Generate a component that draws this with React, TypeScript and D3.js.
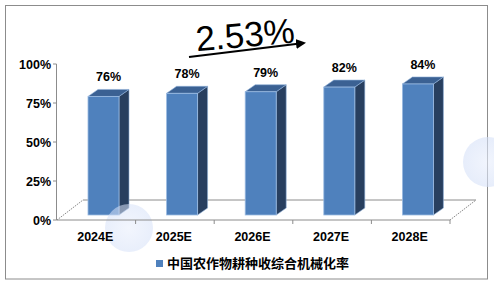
import React from "react";
import * as d3 from "d3";

const categories = ["2024E", "2025E", "2026E", "2027E", "2028E"];
const values = [76, 78, 79, 82, 84];
const valueLabels = ["76%", "78%", "79%", "82%", "84%"];
const yTicks = [0, 25, 50, 75, 100];
const seriesName = "中国农作物耕种收综合机械化率";
const growthLabel = "2.53%";

const W = 494;
const H = 285;
const x0 = 57;
const x1 = 450;
const floorY = 220;
const floorDx = 26;
const floorDy = -20;
const barBottom = 215;
const barW = 31;
const barOff = 31;
const bdx = 10;
const bdy = -7;

export default function App() {
  const x = d3.scaleBand<string>().domain(categories).range([x0, x1]).padding(0);
  const yAxis = d3.scaleLinear().domain([0, 100]).range([floorY, 64]);
  const yBar = d3.scaleLinear().domain([0, 100]).range([barBottom, barBottom - 156]);
  const font = "Arial, 'Liberation Sans', sans-serif";
  const boundaries = categories.map((c) => (x(c) as number) + x.bandwidth());

  return (
    <svg
      width={W}
      height={H}
      style={{ position: "absolute", left: 0, top: 0, background: "#fff" }}
      xmlns="http://www.w3.org/2000/svg"
    >
      <defs>
        <radialGradient id="wm" cx="50%" cy="50%" r="50%">
          <stop offset="0%" stopColor="#e8eefc" />
          <stop offset="100%" stopColor="#d6e1f8" />
        </radialGradient>
        <marker id="arr" viewBox="0 0 10 10" refX="8" refY="5" markerWidth="5" markerHeight="5" orient="auto">
          <path d="M0,0 L10,5 L0,10 z" fill="#000" />
        </marker>
      </defs>
      <rect x={5.5} y={5.5} width={482} height={273.5} fill="#fff" stroke="#8c8c8c" strokeWidth={1} />

      {/* floor */}
      <line x1={x0 + floorDx} y1={floorY + floorDy} x2={x1 + floorDx} y2={floorY + floorDy} stroke="#8c8c8c" />
      <line x1={x0} y1={floorY} x2={x0 + floorDx} y2={floorY + floorDy} stroke="#8c8c8c" strokeDasharray="1.5,1" />
      <line x1={x1} y1={floorY} x2={x1 + floorDx} y2={floorY + floorDy} stroke="#8c8c8c" strokeDasharray="1.5,1" />

      {/* bars */}
      {categories.map((c, i) => {
        const fx = (x(c) as number) + barOff;
        const top = yBar(values[i]);
        return (
          <g key={c}>
            <path
              d={`M${fx + barW},${top} L${fx + barW + bdx},${top + bdy} L${fx + barW + bdx},${barBottom + bdy} L${fx + barW},${barBottom} Z`}
              fill="#283f5f"
              stroke="#8fb0d8"
              strokeWidth={0.6}
            />
            <path
              d={`M${fx},${top} L${fx + bdx},${top + bdy} L${fx + barW + bdx},${top + bdy} L${fx + barW},${top} Z`}
              fill="#3b6193"
              stroke="#8fb0d8"
              strokeWidth={0.6}
            />
            <rect x={fx} y={top} width={barW} height={barBottom - top} fill="#4f81bd" stroke="#9bbbe2" strokeWidth={0.8} />
            <text
              x={fx + (barW + bdx) / 2}
              y={top + bdy - 8}
              textAnchor="middle"
              fontFamily={font}
              fontWeight="bold"
              fontSize={12.5}
              fill="#000"
            >
              {valueLabels[i]}
            </text>
          </g>
        );
      })}

      {/* watermark circles (faint) */}
      <circle cx={129} cy={228} r={24} fill="url(#wm)" opacity={0.55} />
      <circle cx={488} cy={162} r={25} fill="url(#wm)" opacity={0.6} />

      {/* axes */}
      <line x1={x0 - 0.5} y1={floorY} x2={x1} y2={floorY} stroke="#8c8c8c" />
      {boundaries.map((b, i) => (
        <line key={i} x1={b} y1={floorY} x2={b} y2={floorY + 4} stroke="#8c8c8c" />
      ))}
      <line x1={x0 - 0.5} y1={64} x2={x0 - 0.5} y2={floorY} stroke="#8c8c8c" />
      {yTicks.map((t) => (
        <g key={t}>
          <line x1={x0 - 4} y1={yAxis(t)} x2={x0 - 0.5} y2={yAxis(t)} stroke="#8c8c8c" />
          <text
            x={51}
            y={yAxis(t) + 4.5}
            textAnchor="end"
            fontFamily={font}
            fontWeight="bold"
            fontSize={12.5}
            fill="#000"
          >
            {t}%
          </text>
        </g>
      ))}
      {categories.map((c) => (
        <text
          key={c}
          x={(x(c) as number) + x.bandwidth() / 2 - 1}
          y={240.5}
          textAnchor="middle"
          fontFamily={font}
          fontWeight="bold"
          fontSize={12.5}
          fill="#000"
        >
          {c}
        </text>
      ))}

      {/* annotation */}
      <line x1={189} y1={57} x2={304} y2={43} stroke="#000" strokeWidth={2} markerEnd="url(#arr)" />
      <text
        x={245}
        y={47}
        textAnchor="middle"
        fontFamily={font}
        fontSize={35}
        fill="#000"
        transform="rotate(-5 245 34)"
      >
        {growthLabel}
      </text>

      {/* legend */}
      <rect x={156} y={260} width={7} height={7} fill="#4f81bd" />
      <text x={167} y={268} fontFamily="'Noto Sans CJK SC', sans-serif" fontWeight="bold" fontSize={13} fill="#000">
        {seriesName}
      </text>
    </svg>
  );
}
